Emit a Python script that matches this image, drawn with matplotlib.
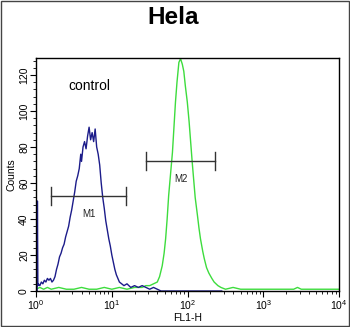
import numpy as np
import matplotlib
matplotlib.use("Agg")
import matplotlib.pyplot as plt
from matplotlib.patches import Rectangle
from matplotlib.ticker import MultipleLocator, LogLocator, NullFormatter

plt.rcParams['font.family'] = ['Liberation Sans', 'DejaVu Sans']
plt.rcParams['mathtext.fontset'] = 'custom'
plt.rcParams['mathtext.rm'] = 'Liberation Sans'

title = "Hela"
control_label = "control"
x_label = "FL1-H"
y_label = "Counts"

# blue (control) histogram: log10(FL1-H) positions and counts
blue_log_fl1 = [0.014, 0.018, 0.024, 0.03, 0.05, 0.07, 0.09, 0.11, 0.13, 0.15, 0.17, 0.19, 0.21, 0.23,
                0.25, 0.27, 0.29, 0.31, 0.33, 0.35, 0.37, 0.39, 0.41, 0.43, 0.45, 0.47, 0.49,
                0.51, 0.53, 0.55, 0.57, 0.59, 0.60, 0.62, 0.64, 0.66, 0.68, 0.70, 0.72, 0.74,
                0.76, 0.78, 0.80, 0.82, 0.84, 0.86, 0.88, 0.90, 0.92, 0.94, 0.96, 0.98, 1.00,
                1.02, 1.04, 1.06, 1.08, 1.10, 1.13, 1.16, 1.20, 1.25, 1.30, 1.35, 1.40, 1.45,
                1.50, 1.55, 1.60, 1.65, 2.45]
blue_counts = [0, 50, 3, 4, 3, 5, 4, 6, 5, 7, 6, 7, 5, 6,
               8, 12, 15, 19, 21, 24, 26, 30, 33, 36, 41, 45, 50,
               55, 61, 64, 68, 76, 72, 80, 83, 79, 86, 91, 84, 88,
               83, 90, 80, 76, 70, 60, 52, 46, 39, 34, 29, 25, 20,
               16, 12, 9, 7, 5, 4, 3, 4, 2, 3, 2, 3, 2,
               1, 2, 1, 0, 0]

# green (antibody) histogram
green_log_fl1 = [0.00, 0.05, 0.10, 0.15, 0.20, 0.30, 0.40, 0.50, 0.60, 0.70, 0.80, 0.90, 1.00,
                 1.10, 1.20, 1.30, 1.40, 1.45, 1.50, 1.55, 1.60, 1.63, 1.665, 1.69, 1.71, 1.73,
                 1.75, 1.775, 1.80, 1.82, 1.84, 1.86, 1.885, 1.907, 1.93, 1.95, 1.97, 1.996,
                 2.02, 2.04, 2.06, 2.08, 2.10, 2.13, 2.15, 2.17, 2.20, 2.22, 2.25, 2.28, 2.32,
                 2.35, 2.40, 2.44, 2.50, 2.60, 2.70, 2.80, 3.00, 3.20, 3.40, 3.45, 3.50, 3.70,
                 3.90, 4.00]
green_counts = [1, 2, 1, 2, 1, 2, 1, 1, 2, 1, 1, 2, 1,
                2, 1, 2, 2, 3, 3, 4, 5, 8, 14, 21, 29, 40,
                53, 65, 77, 91, 105, 116, 127, 129, 126, 122, 114, 105,
                94, 83, 72, 62, 52, 42, 35, 29, 22, 18, 13, 10, 7,
                5, 3, 2, 1, 2, 1, 1, 1, 1, 1, 2, 1, 1,
                1, 1]

# marker gates: (label, start, end, level)
gate_labels = ["M1", "M2"]
gate_start = [1.57, 28.4]
gate_end = [15.5, 228]
gate_level = [53, 72]

fig = plt.figure(figsize=(3.5, 3.27), dpi=100)
ax = fig.add_axes([0.103, 0.110, 0.866, 0.713])

ax.plot(10 ** np.array(green_log_fl1), green_counts, color="#3ddc3d", lw=1.0)
ax.plot(10 ** np.array(blue_log_fl1), blue_counts, color="#1c1c8a", lw=1.0)

for lab, s, e, lev in zip(gate_labels, gate_start, gate_end, gate_level):
    ax.plot([s, e], [lev, lev], color="#333333", lw=1.0)
    ax.plot([s, s], [lev - 5, lev + 5], color="#333333", lw=1.0)
    ax.plot([e, e], [lev - 5, lev + 5], color="#333333", lw=1.0)
    xm = np.sqrt(s * e)
    ax.text(xm, lev - 10, lab, ha="center", va="center", fontsize=7, color="#222222")

ax.set_xscale("log")
ax.set_xlim(1, 10000)
ax.set_ylim(0, 129.5)
ax.yaxis.set_major_locator(MultipleLocator(20))
ax.yaxis.set_minor_locator(MultipleLocator(4))
ax.xaxis.set_major_locator(LogLocator(base=10, numticks=10))
ax.xaxis.set_minor_locator(LogLocator(base=10, subs=np.arange(2, 10), numticks=50))
ax.xaxis.set_minor_formatter(NullFormatter())
ax.tick_params(axis="both", which="major", labelsize=7.5, length=4, width=0.8, pad=1)
ax.tick_params(axis="both", which="minor", length=2, width=0.6)
for lbl in ax.get_yticklabels():
    lbl.set_rotation(90)
    lbl.set_va("center")
for sp in ax.spines.values():
    sp.set_linewidth(1.0)

ax.set_xlabel(x_label, fontsize=7.5, labelpad=1)
ax.set_ylabel(y_label, fontsize=7.5, labelpad=2)
ax.text(0.105, 0.88, control_label, transform=ax.transAxes, fontsize=10, ha="left", va="center")

fig.text(0.494, 0.948, title, ha="center", va="center", fontsize=17.5, fontweight="bold")
fig.patches.append(Rectangle((0.002, 0.002), 0.994, 0.994, transform=fig.transFigure,
                             fill=False, edgecolor="#444444", lw=1.0))

fig.savefig("out.png", dpi=100)
